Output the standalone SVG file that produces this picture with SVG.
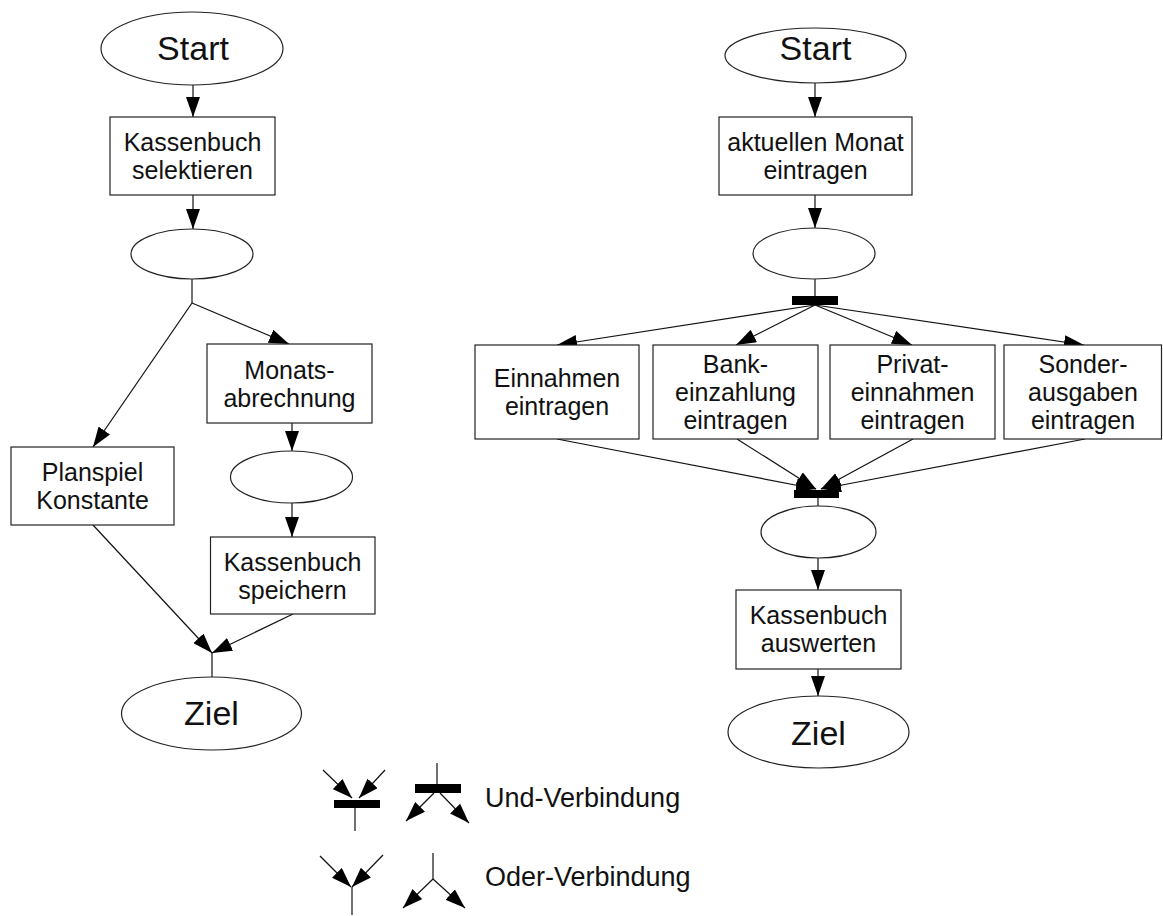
<svg xmlns="http://www.w3.org/2000/svg" width="1163" height="916" viewBox="0 0 1163 916">
  <style>
    .shape { fill: #ffffff; stroke: #222222; stroke-width: 1.2; }
    .bar { fill: #000000; stroke: none; }
    .edge { fill: none; stroke: #111111; stroke-width: 1.2; }
    .arr { marker-end: url(#head); }
    text { font-family: "Liberation Sans", Arial, sans-serif; fill: #111111; text-anchor: middle; }
    .lbl { font-size: 25px; }
    .big { font-size: 34px; }
    .legend { font-size: 27px; text-anchor: start; }
  </style>
  <defs>
    <marker id="head" markerUnits="userSpaceOnUse" markerWidth="20" markerHeight="14" refX="20" refY="7" orient="auto">
      <path d="M0,0 L20,7 L0,14 z" fill="#000000"/>
    </marker>
  </defs>

  <rect width="1163" height="916" fill="#ffffff"/>

  <!-- connectors -->
  <g id="connectors">
    <!-- left flow -->
    <line class="edge arr" x1="193" y1="85" x2="193" y2="117"/>
    <line class="edge arr" x1="193" y1="195" x2="193" y2="229"/>
    <line class="edge" x1="192" y1="279" x2="192" y2="303"/>
    <line class="edge arr" x1="192" y1="303" x2="93" y2="447"/>
    <line class="edge arr" x1="192" y1="303" x2="289" y2="344"/>
    <line class="edge arr" x1="292" y1="423" x2="292" y2="451"/>
    <line class="edge arr" x1="292" y1="503" x2="292" y2="537"/>
    <line class="edge arr" x1="93" y1="525" x2="212" y2="653"/>
    <line class="edge arr" x1="293" y1="614" x2="212" y2="653"/>
    <line class="edge" x1="212" y1="653" x2="212" y2="677"/>

    <!-- right flow -->
    <line class="edge arr" x1="815" y1="83" x2="815" y2="117"/>
    <line class="edge arr" x1="815" y1="195" x2="815" y2="228"/>
    <line class="edge" x1="815" y1="279" x2="815" y2="296"/>
    <line class="edge arr" x1="815" y1="305" x2="557" y2="345"/>
    <line class="edge arr" x1="815" y1="305" x2="736" y2="345"/>
    <line class="edge arr" x1="815" y1="305" x2="912" y2="345"/>
    <line class="edge arr" x1="815" y1="305" x2="1084" y2="345"/>
    <line class="edge arr" x1="557" y1="439" x2="816" y2="489"/>
    <line class="edge arr" x1="737" y1="439" x2="816" y2="489"/>
    <line class="edge arr" x1="913" y1="439" x2="821" y2="489"/>
    <line class="edge arr" x1="1085" y1="439" x2="821" y2="489"/>
    <line class="edge" x1="818" y1="498" x2="818" y2="506"/>
    <line class="edge arr" x1="818" y1="558" x2="818" y2="590"/>
    <line class="edge arr" x1="818" y1="669" x2="818" y2="696"/>

    <!-- legend: AND join / AND split -->
    <line class="edge arr" x1="323" y1="770" x2="352" y2="798"/>
    <line class="edge arr" x1="385" y1="770" x2="359" y2="798"/>
    <line class="edge" x1="355" y1="808" x2="355" y2="831"/>
    <line class="edge" x1="437" y1="763" x2="437" y2="784"/>
    <line class="edge arr" x1="434" y1="793" x2="406" y2="821"/>
    <line class="edge arr" x1="440" y1="793" x2="469" y2="823"/>

    <!-- legend: OR join / OR split -->
    <line class="edge arr" x1="320" y1="856" x2="351" y2="887"/>
    <line class="edge arr" x1="383" y1="855" x2="352" y2="887"/>
    <line class="edge" x1="352" y1="887" x2="352" y2="915"/>
    <line class="edge" x1="433" y1="853" x2="433" y2="879"/>
    <line class="edge arr" x1="433" y1="879" x2="403" y2="908"/>
    <line class="edge arr" x1="433" y1="879" x2="465" y2="908"/>
  </g>

  <!-- left flow nodes -->
  <g id="start-left">
    <ellipse class="shape" cx="192" cy="48.5" rx="91" ry="36.5"/>
    <text class="big" x="193" y="60">Start</text>
  </g>
  <g id="kassenbuch-selektieren">
    <rect class="shape" x="110" y="117" width="165" height="78"/>
    <text class="lbl" x="192.5" y="151">Kassenbuch</text>
    <text class="lbl" x="192.5" y="179">selektieren</text>
  </g>
  <g id="event-left-1">
    <ellipse class="shape" cx="192" cy="254" rx="61" ry="25"/>
  </g>
  <g id="monatsabrechnung">
    <rect class="shape" x="207" y="344" width="165" height="79"/>
    <text class="lbl" x="289.5" y="379">Monats-</text>
    <text class="lbl" x="289.5" y="407">abrechnung</text>
  </g>
  <g id="planspiel-konstante">
    <rect class="shape" x="11" y="447" width="163" height="78"/>
    <text class="lbl" x="92.5" y="481">Planspiel</text>
    <text class="lbl" x="92.5" y="509">Konstante</text>
  </g>
  <g id="event-left-2">
    <ellipse class="shape" cx="291.5" cy="477" rx="61" ry="26"/>
  </g>
  <g id="kassenbuch-speichern">
    <rect class="shape" x="210.5" y="537" width="164.5" height="77"/>
    <text class="lbl" x="292.5" y="571">Kassenbuch</text>
    <text class="lbl" x="292.5" y="599">speichern</text>
  </g>
  <g id="ziel-left">
    <ellipse class="shape" cx="211.5" cy="713.5" rx="90" ry="36.5"/>
    <text class="big" x="211.5" y="725">Ziel</text>
  </g>

  <!-- right flow nodes -->
  <g id="start-right">
    <ellipse class="shape" cx="815.5" cy="55.5" rx="90.5" ry="27.5"/>
    <text class="big" x="815.5" y="60">Start</text>
  </g>
  <g id="monat-eintragen">
    <rect class="shape" x="719" y="117" width="193" height="78"/>
    <text class="lbl" x="815.5" y="151">aktuellen Monat</text>
    <text class="lbl" x="815.5" y="179">eintragen</text>
  </g>
  <g id="event-right-1">
    <ellipse class="shape" cx="814" cy="253.5" rx="61" ry="25.5"/>
  </g>
  <g id="and-split">
    <rect class="bar" x="792" y="296" width="46" height="9"/>
  </g>
  <g id="einnahmen">
    <rect class="shape" x="475" y="345" width="164" height="94"/>
    <text class="lbl" x="557" y="387">Einnahmen</text>
    <text class="lbl" x="557" y="415">eintragen</text>
  </g>
  <g id="bankeinzahlung">
    <rect class="shape" x="653" y="345" width="165" height="94"/>
    <text class="lbl" x="735.5" y="373">Bank-</text>
    <text class="lbl" x="735.5" y="401">einzahlung</text>
    <text class="lbl" x="735.5" y="429">eintragen</text>
  </g>
  <g id="privateinnahmen">
    <rect class="shape" x="830" y="345" width="165" height="94"/>
    <text class="lbl" x="912.5" y="373">Privat-</text>
    <text class="lbl" x="912.5" y="401">einnahmen</text>
    <text class="lbl" x="912.5" y="429">eintragen</text>
  </g>
  <g id="sonderausgaben">
    <rect class="shape" x="1004" y="345" width="157.5" height="94"/>
    <text class="lbl" x="1083" y="373">Sonder-</text>
    <text class="lbl" x="1083" y="401">ausgaben</text>
    <text class="lbl" x="1083" y="429">eintragen</text>
  </g>
  <g id="and-join">
    <rect class="bar" x="794" y="490" width="45" height="8"/>
  </g>
  <g id="event-right-2">
    <ellipse class="shape" cx="818.5" cy="532" rx="57.5" ry="26"/>
  </g>
  <g id="kassenbuch-auswerten">
    <rect class="shape" x="736" y="590" width="165" height="79"/>
    <text class="lbl" x="818.5" y="624">Kassenbuch</text>
    <text class="lbl" x="818.5" y="652">auswerten</text>
  </g>
  <g id="ziel-right">
    <ellipse class="shape" cx="818.5" cy="732" rx="90.5" ry="36"/>
    <text class="big" x="818.5" y="745">Ziel</text>
  </g>

  <!-- legend -->
  <g id="legend-und">
    <rect class="bar" x="334" y="800" width="46" height="8"/>
    <rect class="bar" x="415" y="784" width="46" height="9"/>
    <text class="legend" x="485" y="807">Und-Verbindung</text>
  </g>
  <g id="legend-oder">
    <text class="legend" x="485" y="886">Oder-Verbindung</text>
  </g>
</svg>
